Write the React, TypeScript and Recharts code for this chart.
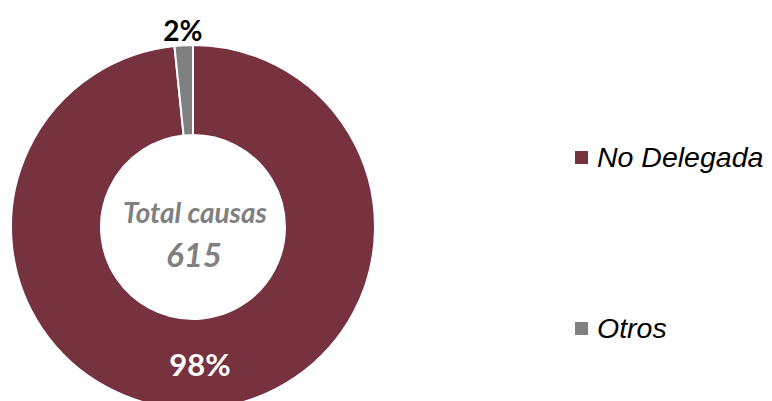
import React from "react";
import { PieChart, Pie, Cell, Legend } from "recharts";

const categories = ["No Delegada", "Otros"];
const values = [605, 10];
const percentLabels = ["98%", "2%"];
const totalLabel = "Total causas";
const totalValue = "615";
const colors = ["#76323F", "#808080"];

const data = categories.map((name, i) => ({ name, value: values[i], pct: percentLabels[i] }));

const RAD = Math.PI / 180;

const renderLabel = (props: any) => {
  const { cx, cy, midAngle, innerRadius, outerRadius, index } = props;
  if (index === 0) {
    const r = (innerRadius + outerRadius) / 2;
    const x = cx + r * Math.cos(-midAngle * RAD);
    const y = cy + r * Math.sin(-midAngle * RAD);
    return (
      <text x={x} y={y} fill="#ffffff" textAnchor="middle" dominantBaseline="central"
        style={{ fontFamily: "Lato", fontWeight: 700, fontSize: 31 }}>
        {data[index].pct}
      </text>
    );
  }
  const r = outerRadius + 15;
  const x = cx + r * Math.cos(-midAngle * RAD);
  const y = cy + r * Math.sin(-midAngle * RAD);
  return (
    <text x={x} y={y} fill="#000000" textAnchor="middle" dominantBaseline="central"
      style={{ fontFamily: "Lato", fontWeight: 700, fontSize: 28 }}>
      {data[index].pct}
    </text>
  );
};

const renderLegend = (props: any) => {
  const { payload } = props;
  return (
    <div style={{ fontFamily: "'Liberation Sans', Arial, sans-serif", fontStyle: "italic" }}>
      {payload.map((entry: any, i: number) => (
        <div key={i} style={{ display: "flex", alignItems: "center", height: 34, marginTop: i === 0 ? 0 : 137 }}>
          <div style={{ width: 13, height: 13, background: entry.color, marginRight: 9 }} />
          <span style={{ fontSize: 28.5, color: "#000", whiteSpace: "nowrap" }}>{entry.value}</span>
        </div>
      ))}
    </div>
  );
};

export default function App() {
  return (
    <div style={{ position: "fixed", left: 0, top: 0, width: 772, height: 401, background: "#fff" }}>
      <PieChart width={772} height={401}>
        <Pie
          data={data}
          dataKey="value"
          nameKey="name"
          cx={188}
          cy={222}
          innerRadius={92}
          outerRadius={182}
          startAngle={90}
          endAngle={-270}
          stroke="#ffffff"
          strokeWidth={2}
          label={renderLabel}
          labelLine={false}
          isAnimationActive={false}
        >
          {data.map((d, i) => (
            <Cell key={i} fill={colors[i]} />
          ))}
        </Pie>
        <text x={195} y={223} textAnchor="middle" fill="#808080"
          style={{ fontFamily: "Lato", fontWeight: 700, fontStyle: "italic", fontSize: 28 }}>
          {totalLabel}
        </text>
        <text x={194} y={267} textAnchor="middle" fill="#808080"
          style={{ fontFamily: "Lato", fontWeight: 700, fontStyle: "italic", fontSize: 33 }}>
          {totalValue}
        </text>
        <Legend
          content={renderLegend}
          wrapperStyle={{ position: "absolute", left: 575, top: 140, width: 197 }}
        />
      </PieChart>
    </div>
  );
}
